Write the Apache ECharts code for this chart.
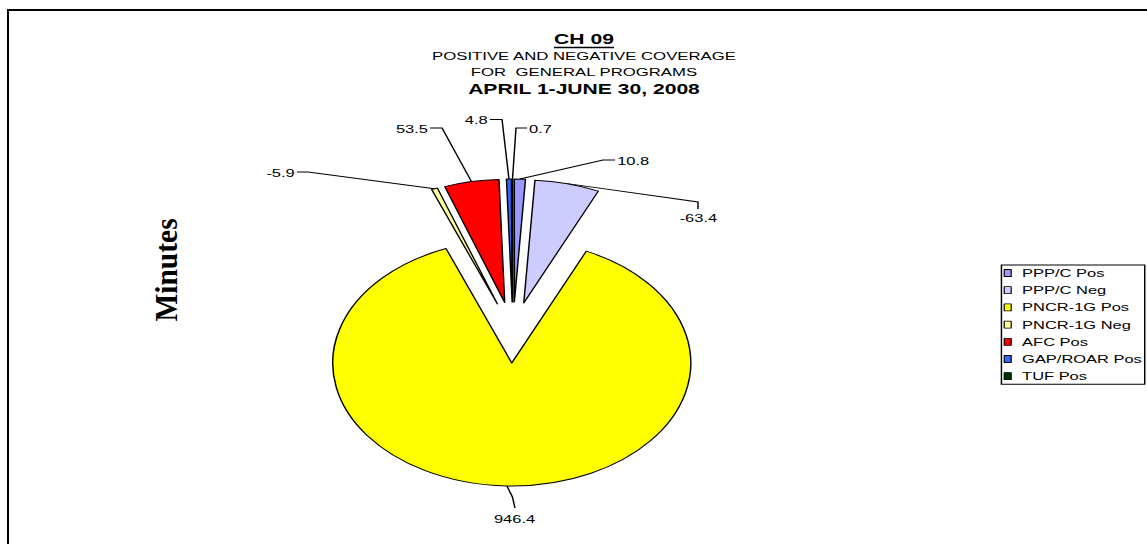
<!DOCTYPE html>
<html>
<head>
<meta charset="utf-8">
<script src="https://cdn.jsdelivr.net/npm/echarts@6/dist/echarts.min.js"></script>
<style>
  html, body { margin: 0; padding: 0; background: #ffffff; overflow: hidden; width: 1147px; height: 544px; }
  #chart { position: absolute; left: 0; top: 0; width: 788px; height: 544px;
           transform: scaleX(1.455584); transform-origin: 0 0; }
</style>
</head>
<body>
<div id="chart"></div>
<script>
// ---- data ----
const categories = ['PPP/C Pos', 'PPP/C Neg', 'PNCR-1G Pos', 'PNCR-1G Neg', 'AFC Pos', 'GAP/ROAR Pos', 'TUF Pos'];
const minutes = [10.8, -63.4, 946.4, -5.9, 53.5, 4.8, 0.7];
const titleLines = ['CH 09', 'POSITIVE AND NEGATIVE COVERAGE', 'FOR  GENERAL PROGRAMS', 'APRIL 1-JUNE 30, 2008'];
const axisName = 'Minutes';

// ---- style / layout ----
const palette = ['#9999FF', '#CCCCFF', '#FFFF00', '#FFFF99', '#FF0000', '#3366FF', '#003300'];
const SANS = '"Liberation Sans", Arial, sans-serif';
const SERIF = '"Liberation Serif", "Times New Roman", serif';
const CX = 352.4, CY = 332.5, R = 123, EXPLODE = 30.5;

// label leader guides (elbow, end of leader, text anchor)
const guides = [
  { elbow: [414.3, 160], end: [422.5, 160], text: [424, 161], align: 'left', va: 'middle' },
  { elbow: [479.5, 202], end: [479.5, 209], text: [479.8, 212.5], align: 'center', va: 'top' },
  { elbow: null, end: [353.8, 508], text: [353.5, 513.5], align: 'center', va: 'top' },
  { elbow: [211.6, 172], end: [204, 172], text: [202.5, 172.5], align: 'right', va: 'middle' },
  { elbow: [303.7, 128], end: [295.4, 128], text: [294, 128.5], align: 'right', va: 'middle' },
  { elbow: [344.9, 119.5], end: [336.6, 119.5], text: [335, 120], align: 'right', va: 'middle' },
  { elbow: [354.5, 128], end: [362.1, 128], text: [363.5, 128.5], align: 'left', va: 'middle' }
];

const absVals = minutes.map(v => Math.abs(v));
const total = absVals.reduce((a, b) => a + b, 0);
function anchorOf(i) {
  let cum = 0;
  for (let k = 0; k < i; k++) cum += absVals[k];
  const th = 2 * Math.PI * (cum + absVals[i] / 2) / total;
  const rr = R + EXPLODE;
  return [CX + rr * Math.sin(th), CY - rr * Math.cos(th)];
}

const sliceData = categories.map((name, i) => ({
  name: name,
  value: absVals[i],
  selected: true,
  itemStyle: { color: palette[i] },
  select: { itemStyle: { color: palette[i], borderColor: '#000', borderWidth: 1 } }
}));
const labelData = categories.map((name, i) => ({ name: name, value: absVals[i] }));

const chart = echarts.init(document.getElementById('chart'), null, { renderer: 'svg' });
chart.setOption({
  animation: false,
  backgroundColor: 'transparent',
  title: {
    text: '{a|' + titleLines[0] + '}\n{b|' + titleLines[1] + '}\n{b|' + titleLines[2] + '}\n{c|' + titleLines[3] + '}',
    left: 401.2,
    top: 30.65,
    textAlign: 'center',
    padding: 0,
    textStyle: {
      fontWeight: 'normal',
      rich: {
        a: { fontFamily: SANS, fontWeight: 'bold', fontSize: 14.5, lineHeight: 16.7, color: '#000', align: 'center' },
        b: { fontFamily: SANS, fontWeight: 'normal', fontSize: 11.5, lineHeight: 16.7, color: '#000', align: 'center' },
        c: { fontFamily: SANS, fontWeight: 'bold', fontSize: 14.5, lineHeight: 16.7, color: '#000', align: 'center' }
      }
    }
  },
  legend: {
    orient: 'vertical',
    left: 688,
    top: 265,
    data: categories,
    icon: 'rect',
    itemWidth: 4.8,
    itemHeight: 7,
    itemGap: 4.2,
    padding: [1.5, 2, 1.5, 1.5],
    borderColor: '#000',
    borderWidth: 1,
    backgroundColor: '#fff',
    selectedMode: false,
    itemStyle: { borderColor: '#000', borderWidth: 0.8 },
    textStyle: { fontFamily: SANS, fontSize: 11.3, lineHeight: 13, color: '#000', padding: [0, 0, 0, 2.5] }
  },
  graphic: [
    { type: 'line', shape: { x1: 5.5, y1: 10, x2: 790, y2: 10 }, style: { stroke: '#000', lineWidth: 2 }, silent: true },
    { type: 'line', shape: { x1: 5.5, y1: 9, x2: 5.5, y2: 560 }, style: { stroke: '#000', lineWidth: 1.4 }, silent: true },
    { type: 'line', shape: { x1: 380.6, y1: 47.5, x2: 421.8, y2: 47.5 }, style: { stroke: '#000', lineWidth: 1.3 }, silent: true },
    {
      type: 'text', x: 114, y: 270, rotation: Math.PI / 2, scaleY: 0.76, silent: true,
      style: { text: axisName, font: 'bold 29.5px ' + SERIF, fill: '#000', textAlign: 'center', textVerticalAlign: 'middle' }
    }
  ],
  series: [
    {
      type: 'pie',
      name: 'slices',
      center: [CX, CY],
      radius: R,
      startAngle: 90,
      clockwise: true,
      selectedMode: 'multiple',
      selectedOffset: EXPLODE,
      avoidLabelOverlap: false,
      silent: true,
      emphasis: { disabled: true },
      label: { show: false },
      labelLine: { show: false },
      itemStyle: { borderColor: '#000', borderWidth: 1 },
      data: sliceData
    },
    {
      type: 'pie',
      name: 'labels',
      center: [CX, CY],
      radius: R,
      startAngle: 90,
      clockwise: true,
      selectedMode: false,
      avoidLabelOverlap: false,
      silent: true,
      emphasis: { disabled: true },
      itemStyle: { color: 'rgba(0,0,0,0)', borderWidth: 0 },
      label: {
        show: true,
        position: 'outside',
        fontFamily: SANS,
        fontSize: 11.3,
        color: '#000',
        formatter: p => String(minutes[p.dataIndex])
      },
      labelLine: { show: true, lineStyle: { color: '#000', width: 1 } },
      labelLayout: function (p) {
        const i = p.dataIndex;
        const g = guides[i];
        const a = anchorOf(i);
        const pts = g.elbow ? [a, g.elbow, g.end] : [a, [(a[0] + g.end[0]) / 2 + 1, (a[1] + g.end[1]) / 2], g.end];
        return {
          x: g.text[0], y: g.text[1],
          align: g.align, verticalAlign: g.va,
          hideOverlap: false, moveOverlap: null,
          labelLinePoints: pts
        };
      },
      data: labelData
    }
  ]
});
</script>
</body>
</html>
